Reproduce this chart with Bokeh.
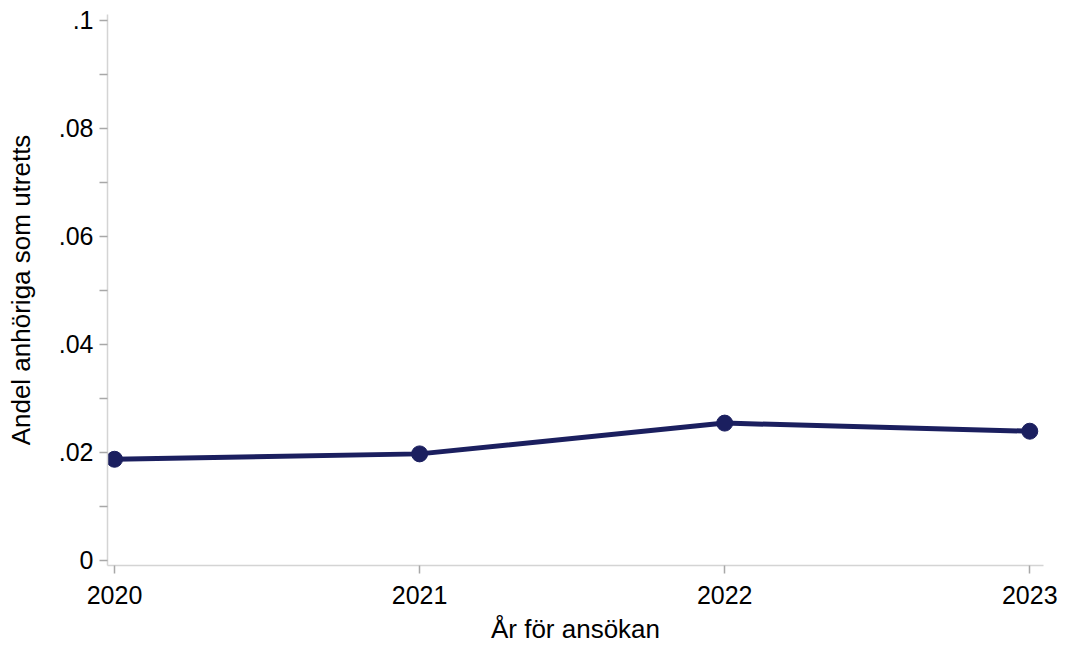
from bokeh.plotting import figure
from bokeh.models import Range1d, FixedTicker
from bokeh.embed import file_html
from bokeh.resources import INLINE

years = [2020, 2021, 2022, 2023]
andel = [0.0187, 0.0197, 0.0254, 0.0239]
y_ticks = [0.0, 0.01, 0.02, 0.03, 0.04, 0.05, 0.06, 0.07, 0.08, 0.09, 0.10]
y_labels = ["0", "", ".02", "", ".04", "", ".06", "", ".08", "", ".1"]
x_labels = ["2020", "2021", "2022", "2023"]

FONT = "Liberation Sans"
NAVY = "#1b1f5f"

p = figure(width=1060, height=646, output_backend="svg", toolbar_location=None,
           x_range=Range1d(2019.977, 2023.045), y_range=Range1d(-0.00098, 0.1011),
           min_border_left=107, min_border_right=17, min_border_top=14, min_border_bottom=80)
p.outline_line_color = None
p.xgrid.grid_line_color = None
p.ygrid.grid_line_color = None
p.background_fill_color = "white"
p.border_fill_color = "white"

p.line(years, andel, line_color=NAVY, line_width=5)
p.scatter(years, andel, size=16, fill_color=NAVY, line_color=NAVY)

ya = p.yaxis[0]
ya.ticker = FixedTicker(ticks=y_ticks, minor_ticks=[])
ya.major_label_overrides = {t: l for t, l in zip(y_ticks, y_labels)}
ya.axis_label = "Andel anhöriga som utretts"

xa = p.xaxis[0]
xa.ticker = FixedTicker(ticks=years, minor_ticks=[])
xa.major_label_overrides = {y: l for y, l in zip(years, x_labels)}
xa.axis_label = "År för ansökan"

for ax in (xa, ya):
    ax.axis_line_color = "#d4d4d4"
    ax.axis_line_width = 1.5
    ax.major_tick_line_color = "#a8a8a8"
    ax.major_tick_line_width = 1.5
    ax.major_tick_out = 8
    ax.major_tick_in = 0
    ax.minor_tick_out = 0
    ax.minor_tick_in = 0
    ax.major_label_text_font = FONT
    ax.major_label_text_font_size = "25px"
    ax.major_label_text_color = "black"
    ax.axis_label_text_font = FONT
    ax.axis_label_text_font_size = "26px"
    ax.axis_label_text_font_style = "normal"
    ax.axis_label_text_color = "black"

ya.major_label_standoff = 6
ya.axis_label_standoff = 20
xa.major_label_standoff = 12
xa.axis_label_standoff = 7

open("out.html", "w").write(file_html(p, INLINE))
